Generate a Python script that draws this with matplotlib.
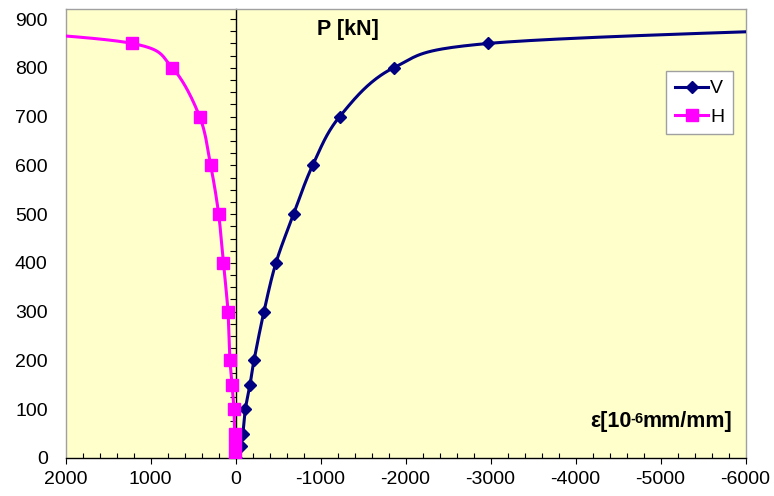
import numpy as np
import matplotlib
matplotlib.use('Agg')
import matplotlib.pyplot as plt
from matplotlib.lines import Line2D
from matplotlib.ticker import MultipleLocator, FuncFormatter

plt.rcParams['font.family'] = ['Liberation Sans', 'DejaVu Sans']
plt.rcParams['axes.unicode_minus'] = False

# ---- data (strain in 10^-6 mm/mm, load in kN) ----
v_strain = [0, -60, -85, -114, -169, -216, -333, -474, -682, -906, -1224, -1859, -2973, -7000]
v_load = [0, 25, 50, 100, 150, 200, 300, 400, 500, 600, 700, 800, 850, 880]
h_strain = [5, 10, 12, 20, 43, 67, 90, 145, 200, 294, 424, 745, 1215, 3000]
h_load = [0, 25, 50, 100, 150, 200, 300, 400, 500, 600, 700, 800, 850, 878]
series_names = ['V', 'H']
x_ticks = [2000, 1000, 0, -1000, -2000, -3000, -4000, -5000, -6000]
y_ticks = [0, 100, 200, 300, 400, 500, 600, 700, 800, 900]

W, H = 774, 496
fig = plt.figure(figsize=(W / 100, H / 100), dpi=100)
L, R, T, B = 65.7, 745.5, 9.3, 458.0
ax = fig.add_axes([L / W, 1 - B / H, (R - L) / W, (B - T) / H])
xmin, xmax = 2000, -6000
ymin, ymax = 0, 920
ax.set_xlim(xmin, xmax)
ax.set_ylim(ymin, ymax)
ax.set_facecolor('#FFFFCC')

sx = (R - L) / abs(xmax - xmin)
sy = (B - T) / (ymax - ymin)


def smooth(xs, ys, n=40):
    P = np.column_stack([np.asarray(xs, float) * sx, np.asarray(ys, float) * sy])
    out = []
    for i in range(len(P) - 1):
        p0 = P[i - 1] if i > 0 else P[i]
        p1, p2 = P[i], P[i + 1]
        p3 = P[i + 2] if i + 2 < len(P) else P[i + 1]
        c1 = p1 + (p2 - p0) / 6
        c2 = p2 - (p3 - p1) / 6
        t = np.linspace(0, 1, n)[:, None]
        seg = (1 - t) ** 3 * p1 + 3 * (1 - t) ** 2 * t * c1 + 3 * (1 - t) * t ** 2 * c2 + t ** 3 * p2
        out.append(seg if i == 0 else seg[1:])
    S = np.vstack(out)
    return S[:, 0] / sx, S[:, 1] / sy


navy = '#000080'
mag = '#FF00FF'
vx, vy = smooth(v_strain, v_load)
hx, hy = smooth(h_strain, h_load)
ax.plot(vx, vy, color=navy, lw=2.2, zorder=3)
ax.plot(v_strain, v_load, ls='none', marker='D', ms=6.0, color=navy, mec=navy, zorder=4)
ax.plot(hx, hy, color=mag, lw=2.2, zorder=5)
ax.plot(h_strain, h_load, ls='none', marker='s', ms=8.2, color=mag, mec=mag, zorder=6)

# spines
for s in ['top', 'right', 'left']:
    ax.spines[s].set_color('#A0A0A0')
    ax.spines[s].set_linewidth(1.0)
ax.spines['bottom'].set_color('black')
ax.spines['bottom'].set_linewidth(1.0)

# x axis
ax.set_xticks(x_ticks)
ax.xaxis.set_minor_locator(MultipleLocator(200))
ax.xaxis.set_major_formatter(FuncFormatter(lambda v, p: '%d' % v))
ax.tick_params(axis='x', which='major', direction='out', length=4.2, width=0.8,
               labelsize=14, pad=5, colors='black')
ax.tick_params(axis='x', which='minor', direction='in', length=3.6, width=0.8, colors='black')

# y labels on left edge, no ticks
ax.set_yticks(y_ticks)
ax.tick_params(axis='y', which='both', length=0, labelsize=14, pad=13)

# value axis crossing at x = 0
loc = (xmin - 0) / (xmin - xmax)
sec = ax.secondary_yaxis(loc)
sec.set_yticks(y_ticks)
sec.yaxis.set_minor_locator(MultipleLocator(25))
sec.tick_params(axis='y', which='both', direction='out', length=4.3, width=0.8,
                labelleft=False, labelright=False)
sec.spines['left'].set_color('black')
sec.spines['left'].set_linewidth(1.0)

# axis titles inside plot
bold_fs = 15.5
ax.text((317 - L) / (R - L), (B - 35) / (B - T), 'P [kN]', transform=ax.transAxes,
        ha='left', va='baseline', fontsize=bold_fs, fontweight='bold')
t1 = ax.text((590 - L) / (R - L), (B - 427) / (B - T), 'ε[10', transform=ax.transAxes,
             ha='left', va='baseline', fontsize=bold_fs, fontweight='bold')
t2 = ax.annotate('-6', xy=(1, 0), xycoords=t1, xytext=(-0.8, 4.0), textcoords='offset points',
                 ha='left', va='bottom', fontsize=10.5, fontweight='bold')
t3 = ax.annotate('mm/mm]', xy=(1, 0), xycoords=t2, xytext=(-0.8, -4.0), textcoords='offset points',
                 ha='left', va='bottom', fontsize=bold_fs, fontweight='bold')

handles = [Line2D([], [], color=navy, lw=2.2, marker='D', ms=6.0, mec=navy),
           Line2D([], [], color=mag, lw=2.2, marker='s', ms=8.2, mec=mag)]
leg = ax.legend(handles, series_names, loc='upper right',
                bbox_to_anchor=((733 - L) / (R - L), (B - 71) / (B - T)),
                borderaxespad=0, fontsize=14, frameon=True, fancybox=False,
                edgecolor='#A0A0A0', facecolor='white', framealpha=1,
                handlelength=1.7, handletextpad=0.1, labelspacing=0.55,
                borderpad=0.45, numpoints=1)
leg.get_frame().set_linewidth(1.0)

fig.savefig('out.png', dpi=100)
